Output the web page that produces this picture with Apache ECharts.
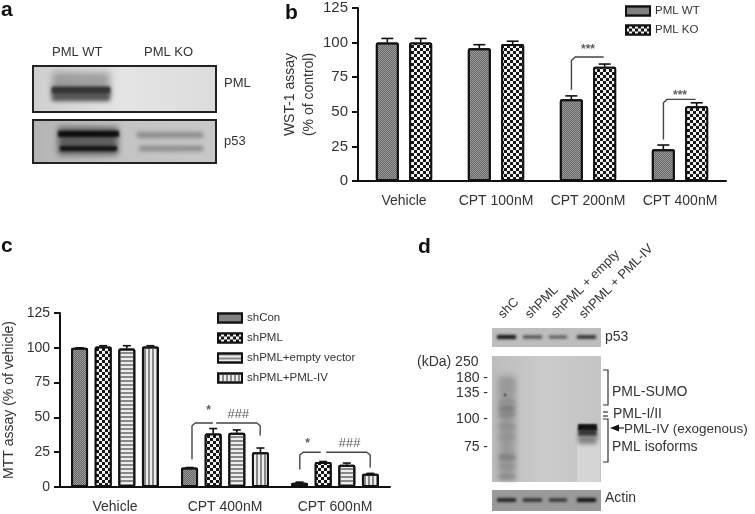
<!DOCTYPE html>
<html><head><meta charset="utf-8">
<style>html,body{margin:0;padding:0;background:#fff}#c{width:755px;height:514px;filter:blur(0.45px)}</style>
<script src="https://cdn.jsdelivr.net/npm/echarts@6/dist/echarts.min.js"></script>
</head><body><div id="c"></div>
<script>
// ---- data ----
const catsB = ['Vehicle','CPT 100nM','CPT 200nM','CPT 400nM'];
const pmlWT = [100,96,59,23];
const pmlKO = [100,99,82.5,54];
const errWT = [3,2.5,2.5,3];
const errKO = [3,2,2,2.5];
const catsC = ['Vehicle','CPT 400nM','CPT 600nM'];
const shCon = [100,14,3];
const shPML = [101,38.5,18];
const shEmpty = [99.5,39,16];
const shIV = [101,25,9.5];
const errCon = [0,0,0.5];
const errPML = [0.5,3.5,0.3];
const errEmpty = [2,2,1.2];
const errIV = [0.5,3,0.3];
// significance brackets: [x in category units, y value]
const bracketsB = [
  [[1.82,66],[1.82,87],[1.86,89.6],[2.17,89.6]],
  [[2.82,30],[2.82,56.5],[2.86,59],[3.17,59]]
];
const starsB = [[2,94.6,'***'],[3,62,'***']];
const bracketsC = [
  [[0.70,20],[0.70,44],[0.73,46],[0.89,46]],
  [[0.92,46],[1.29,46],[1.32,44],[1.32,37]],
  [[1.68,12.5],[1.68,23],[1.71,25],[1.87,25]],
  [[1.92,25],[2.29,25],[2.32,23],[2.32,14]]
];
const starsC = [[0.85,55,'*'],[1.12,52,'###'],[1.75,31,'*'],[2.13,31,'###']];
// ---- styles ----
const INK='#111', TXT='#333';
const FONT='"Liberation Sans",Arial,sans-serif';
const styleDense={color:'#9c9c9c',borderColor:INK,borderWidth:2,borderRadius:1,decal:{symbol:'rect',symbolSize:1,color:'#666',dashArrayX:[[1,1],[0,1,1,0]],dashArrayY:[1,0],rotation:0}};
const styleCheck={color:'#161616',borderColor:INK,borderWidth:2,borderRadius:1,decal:{symbol:'rect',symbolSize:1,color:'#f4f4f4',dashArrayX:[[3,3],[0,3,3,0]],dashArrayY:[3,0],rotation:0}};
const styleHoriz={color:'#eee',borderColor:INK,borderWidth:2,borderRadius:1,decal:{symbol:'rect',symbolSize:1,color:'#888',dashArrayX:[8,0],dashArrayY:[1.7,1.7],rotation:0}};
const styleVert={color:'#eee',borderColor:INK,borderWidth:2,borderRadius:1,decal:{symbol:'rect',symbolSize:1,color:'#888',dashArrayX:[1.7,1.7],dashArrayY:[8,0],rotation:0}};

function barSeries(name,data,style,axis,bw,gap){
  return {type:'bar',name,data,xAxisIndex:axis,yAxisIndex:axis,barWidth:bw,barGap:gap,itemStyle:style,z:3,silent:true,animation:false};
}
function errSeries(vals,errs,idx,count,axis,bw,gapFrac,cap){
  return {type:'custom',xAxisIndex:axis,yAxisIndex:axis,z:2,silent:true,animation:false,
    data:vals.map((v,i)=>[i,v,errs[i]]),
    renderItem(p,api){
      const step=bw*(1+gapFrac);
      const off=(idx-(count-1)/2)*step;
      const a=api.coord([api.value(0),api.value(1)]);
      const b=api.coord([api.value(0),api.value(1)+api.value(2)]);
      const x=a[0]+off;
      return {type:'group',children:[
        {type:'line',shape:{x1:x,y1:a[1],x2:x,y2:b[1]},style:{stroke:INK,lineWidth:1.6}},
        {type:'line',shape:{x1:x-cap,y1:b[1],x2:x+cap,y2:b[1]},style:{stroke:INK,lineWidth:1.6}}
      ]};
    }};
}
function bracketSeries(list,axis){
  return list.map(pts=>({type:'line',xAxisIndex:axis+2,yAxisIndex:axis,data:pts,symbol:'none',z:4,silent:true,animation:false,
    lineStyle:{color:'#444',width:1.4}}));
}
function starSeries(list,axis){
  return {type:'scatter',xAxisIndex:axis+2,yAxisIndex:axis,symbolSize:0,z:4,silent:true,animation:false,
    data:list.map(s=>({value:[s[0],s[1]],label:{show:true,formatter:s[2],position:'inside',color:'#333',fontSize:s[2]==='###'?13:12,fontStyle:s[2]==='###'?'italic':'normal',fontWeight:s[2]==='###'?'normal':'bold',fontFamily:FONT}}))};
}
function xCat(data,gridIndex){
  return {type:'category',gridIndex,data,axisLine:{lineStyle:{color:INK,width:2}},
    axisTick:{alignWithLabel:true,length:5,lineStyle:{color:INK,width:2}},
    axisLabel:{interval:0,color:TXT,fontSize:14,fontFamily:FONT,margin:13}};
}
function yVal(gridIndex,name,nameGap,size,lh){
  return {type:'value',gridIndex,min:0,max:125,interval:25,name,nameLocation:'middle',nameGap,
    nameTextStyle:{color:TXT,fontSize:14,fontFamily:FONT,lineHeight:lh},
    axisLine:{show:true,onZero:false,lineStyle:{color:INK,width:2}},axisTick:{show:true,length:6,lineStyle:{color:INK,width:2}},
    splitLine:{show:false},axisLabel:{color:TXT,fontSize:size,fontFamily:FONT,margin:10}};
}
function xHidden(gridIndex,n){
  return {type:'value',gridIndex,min:-0.5,max:n-0.5,show:false,position:'top'};
}

// ---- blots (drawn as shapes, not data) ----
const g=[];
const FAR=3000;
function frame(x,y,w,h,fill){
  g.push({type:'rect',silent:true,z:1,shape:{x,y,width:w,height:h},style:{fill}});
}
// soft band: only the blurred shadow of an off-canvas rectangle shows
function band(x,y,w,h,gray,blur,z){
  g.push({type:'rect',silent:true,z:z||2,shape:{x:x-FAR,y,width:w,height:h},style:{fill:'#000',shadowBlur:blur,shadowColor:gray,shadowOffsetX:FAR}});
}
function hgrad(stops){return {type:'linear',x:0,y:0,x2:1,y2:0,colorStops:stops.map(s=>({offset:s[0],color:s[1]}))};}
function text(x,y,t,size,opt){
  g.push({type:'text',silent:true,z:6,x,y,rotation:opt&&opt.rot||0,style:Object.assign({text:t,fill:TXT,fontSize:size,fontFamily:FONT,textAlign:'left',textVerticalAlign:'middle'},opt&&opt.style||{})});
}
// panel a
frame(33,66,183,46,hgrad([[0,'#cfcfcf'],[0.5,'#e4e4e4'],[1,'#dcdcdc']]));
band(52,72,58,26,'rgba(120,120,120,0.6)',7);
band(52,87,58,14,'#555',4);
band(52,87,58,6,'#333',3);
frame(33,120,183,43,hgrad([[0,'#b4b4b4'],[0.5,'#c4c4c4'],[1,'#c8c8c8']]));
band(58,127,60,28,'rgba(70,70,70,0.8)',6);
band(58,131,61,6,'#0a0a0a',3);
band(60,146,57,5,'#111',3);
band(137,132,66,6,'#8a8a8a',4);
band(139,146,64,5,'#858585',4);
g.push({type:'rect',silent:true,z:5,shape:{x:33,y:66,width:183,height:46},style:{fill:null,stroke:'#222',lineWidth:2}});
g.push({type:'rect',silent:true,z:5,shape:{x:33,y:120,width:183,height:43},style:{fill:null,stroke:'#222',lineWidth:2}});
text(52,52,'PML WT',13);
text(144,52,'PML KO',13);
text(224,83,'PML',13);
text(224,141,'p53',13);
// panel letters
const bold={style:{fontWeight:'bold',fill:'#111'}};
text(1,10,'a',21,bold); text(285,13,'b',21,bold); text(1,246,'c',21,bold); text(418,247,'d',21,bold);
// panel d
const lanes=[[496,21],[522,21],[548,20],[576,21]];
frame(492,328,109,19,'#bdbdbd');
[['#111',4],['#444',3],['#555',3],['#222',3.4]].forEach((b,i)=>band(lanes[i][0]+1,337-b[1]/2,lanes[i][1]-2,b[1],b[0],3));
frame(492,356,109,126,hgrad([[0,'#bcbcbc'],[0.5,'#cbcbcb'],[1,'#c4c4c4']]));
band(499,376,16,102,'rgba(125,125,125,0.6)',7);
[[380,'#999',4],[388,'#9a9a9a',4],[400,'#8c8c8c',4],[407,'#666',3],[413,'#777',3],[425,'#8c8c8c',4],[435,'#909090',4],[455,'#7c7c7c',5],[465,'#8a8a8a',3],[475,'#808080',4]]
  .forEach(b=>band(499,b[0],16,b[2],b[1],4));
band(504,394,2,2,'#222',2);
g.push({type:'rect',silent:true,z:2,shape:{x:577,y:440,width:23,height:42},style:{fill:'rgba(225,225,225,0.55)'}});
band(578,436,19,8,'rgba(110,110,110,0.8)',4,3);
band(578,428,19,8,'#383838',3,3);
band(578,424,19,6,'#111',2,3);
frame(492,490,109,21,'#9a9a9a');
[['#111',3.4],['#1c1c1c',3],['#222',3],['#0c0c0c',4]].forEach((b,i)=>band(lanes[i][0]+1,500-b[1]/2,lanes[i][1]-2,b[1],b[0],3));
// lane labels
['shC','shPML','shPML + empty','shPML + PML-IV'].forEach((t,i)=>{
  text([505,532,558,586][i],321,t,13,{rot:Math.PI/4,style:{textVerticalAlign:'bottom'}});
});
text(605,337,'p53',14);
text(605,498,'Actin',14);
text(417,362,'(kDa) 250',14);
[[378,'180 -'],[393,'135 -'],[419,'100 -'],[447,'75 -']].forEach(a=>text(488,a[0],a[1],14,{style:{textAlign:'right'}}));
const br=(pts)=>g.push({type:'polyline',silent:true,z:5,shape:{points:pts},style:{fill:null,stroke:'#333',lineWidth:1.2}});
br([[603,370],[608,370],[608,405],[603,405]]);
br([[603,412],[608,412]]); br([[603,416],[608,416]]);
br([[603,419],[608,419],[608,462],[603,462]]);
g.push({type:'polygon',silent:true,z:5,shape:{points:[[610,428],[619,424.5],[619,431.5]]},style:{fill:'#111'}});
g.push({type:'line',silent:true,z:5,shape:{x1:618,y1:428,x2:624,y2:428},style:{stroke:'#222',lineWidth:1.2}});
text(612,392,'PML-SUMO',14);
text(613,414,'PML-I/II',14);
text(624,429,'PML-IV (exogenous)',13.5);
text(612,447,'PML isoforms',14);

// ---- chart ----
const BW_B=23,GAP_B=0.45,BW_C=17,GAP_C=0.39;
const chart=echarts.init(document.getElementById('c'),null,{renderer:'canvas'});
const option={
  animation:false,backgroundColor:'#fff',
  grid:[{left:358,right:29,top:8,height:173},{left:60,right:365,top:313,height:174.5}],
  xAxis:[xCat(catsB,0),xCat(catsC,1),xHidden(0,catsB.length),xHidden(1,catsC.length)],
  yAxis:[yVal(0,'WST-1 assay\n(% of control)',36,15,19),yVal(1,'MTT assay (% of vehicle)',43,14,16)],
  legend:[
    {show:true,orient:'vertical',left:620,top:0,icon:'rect',itemWidth:24,itemHeight:9,itemGap:7,data:['PML WT','PML KO'],
      textStyle:{color:TXT,fontSize:11.5,fontFamily:FONT},selectedMode:false},
    {show:true,orient:'vertical',left:212,top:307,icon:'rect',itemWidth:24,itemHeight:9,itemGap:8,data:['shCon','shPML','shPML+empty vector','shPML+PML-IV'],
      textStyle:{color:TXT,fontSize:11.5,fontFamily:FONT},selectedMode:false}
  ],
  series:[
    barSeries('PML WT',pmlWT,styleDense,0,BW_B,'45%'),
    barSeries('PML KO',pmlKO,styleCheck,0,BW_B,'45%'),
    errSeries(pmlWT,errWT,0,2,0,BW_B,GAP_B,6),
    errSeries(pmlKO,errKO,1,2,0,BW_B,GAP_B,6),
    barSeries('shCon',shCon,styleDense,1,BW_C,'39%'),
    barSeries('shPML',shPML,styleCheck,1,BW_C,'39%'),
    barSeries('shPML+empty vector',shEmpty,styleHoriz,1,BW_C,'39%'),
    barSeries('shPML+PML-IV',shIV,styleVert,1,BW_C,'39%'),
    errSeries(shCon,errCon,0,4,1,BW_C,GAP_C,4),
    errSeries(shPML,errPML,1,4,1,BW_C,GAP_C,4),
    errSeries(shEmpty,errEmpty,2,4,1,BW_C,GAP_C,4),
    errSeries(shIV,errIV,3,4,1,BW_C,GAP_C,4),
    ...bracketSeries(bracketsB,0),
    ...bracketSeries(bracketsC,1),
    starSeries(starsB,0),
    starSeries(starsC,1)
  ],
  graphic:{elements:g}
};
chart.setOption(option);
</script></body></html>
